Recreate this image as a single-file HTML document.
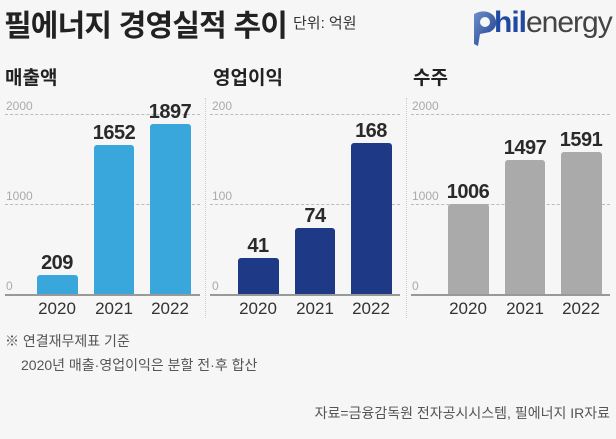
<!DOCTYPE html><html><head><meta charset="utf-8"><style>
body{margin:0;width:616px;height:439px;background:#f6f6f6;position:relative;overflow:hidden;font-family:"Liberation Sans","Noto Sans CJK KR",sans-serif}
.a{position:absolute;white-space:nowrap}
.bar{position:absolute;border-radius:3px 3px 0 0}
.v{position:absolute;font-weight:bold;font-size:20px;color:#2a2a2a;text-align:center;width:60px;letter-spacing:-0.5px}
.y{position:absolute;font-size:17px;color:#333;text-align:center;width:60px;top:299px}
.g{position:absolute;border-top:1px dashed #bbb;height:0}
.t{position:absolute;font-size:12px;color:#aaa}
.base{position:absolute;top:294px;height:2px;background:#999}
.sep{position:absolute;top:98px;height:220px;border-left:1px dotted #ccc}
.h{position:absolute;font-weight:bold;font-size:19px;color:#222;top:63px}
</style></head><body>
<div class="a" style="left:4px;top:1px;font-size:30px;font-weight:bold;color:#222;letter-spacing:-0.8px">필에너지 경영실적 추이</div>
<div class="a" style="left:293px;top:12px;font-size:15px;color:#333">단위: 억원</div>
<svg class="a" style="left:470px;top:8px" width="30" height="40"><defs><linearGradient id="lg" x1="0" y1="0" x2="1" y2="1"><stop offset="0" stop-color="#6d8fc9"/><stop offset="1" stop-color="#1c3c8f"/></linearGradient></defs><path d="M4 6 Q16 0 24 8 Q30 18 20 24 L10 26 L8 38 L4 36 Z" fill="url(#lg)"/><circle cx="15" cy="14" r="5" fill="#f6f6f6"/></svg>
<div class="a" style="left:494px;top:6px;font-size:30px;letter-spacing:-1px"><b style="color:#1f4aa0">hil</b><span style="color:#444">energy</span></div>

<div class="h" style="left:5px">매출액</div>
<div class="h" style="left:213px">영업이익</div>
<div class="h" style="left:413px">수주</div>
<div class="sep" style="left:205px"></div><div class="sep" style="left:406px"></div>

<div class="g" style="left:5px;width:195px;top:114px"></div><div class="g" style="left:5px;width:195px;top:204px"></div>
<div class="g" style="left:210px;width:190px;top:114px"></div><div class="g" style="left:210px;width:190px;top:204px"></div>
<div class="g" style="left:411px;width:199px;top:114px"></div><div class="g" style="left:411px;width:199px;top:204px"></div>
<div class="t" style="left:6px;top:99px">2000</div><div class="t" style="left:6px;top:189px">1000</div><div class="t" style="left:6px;top:279px">0</div>
<div class="t" style="left:212px;top:99px">200</div><div class="t" style="left:212px;top:189px">100</div><div class="t" style="left:212px;top:279px">0</div>
<div class="t" style="left:412px;top:99px">2000</div><div class="t" style="left:412px;top:189px">1000</div><div class="t" style="left:412px;top:279px">0</div>

<div class="bar" style="left:37px;width:41px;top:275px;height:19px;background:#3aa7dc"></div>
<div class="bar" style="left:94px;width:40px;top:145px;height:149px;background:#3aa7dc"></div>
<div class="bar" style="left:150px;width:41px;top:124px;height:170px;background:#3aa7dc"></div>
<div class="v" style="left:27px;top:252px">209</div><div class="v" style="left:84px;top:122px">1652</div><div class="v" style="left:140px;top:101px">1897</div>

<div class="bar" style="left:238px;width:41px;top:258px;height:36px;background:#1e3a87"></div>
<div class="bar" style="left:295px;width:40px;top:228px;height:66px;background:#1e3a87"></div>
<div class="bar" style="left:351px;width:41px;top:143px;height:151px;background:#1e3a87"></div>
<div class="v" style="left:228px;top:235px">41</div><div class="v" style="left:285px;top:205px">74</div><div class="v" style="left:341px;top:120px">168</div>

<div class="bar" style="left:448px;width:41px;top:204px;height:90px;background:#aaa"></div>
<div class="bar" style="left:505px;width:40px;top:160px;height:134px;background:#aaa"></div>
<div class="bar" style="left:561px;width:41px;top:152px;height:142px;background:#aaa"></div>
<div class="v" style="left:438px;top:181px">1006</div><div class="v" style="left:495px;top:137px">1497</div><div class="v" style="left:551px;top:129px">1591</div>

<div class="base" style="left:5px;width:195px"></div><div class="base" style="left:210px;width:190px"></div><div class="base" style="left:411px;width:199px"></div>
<div class="y" style="left:27px">2020</div><div class="y" style="left:84px">2021</div><div class="y" style="left:140px">2022</div>
<div class="y" style="left:228px">2020</div><div class="y" style="left:285px">2021</div><div class="y" style="left:341px">2022</div>
<div class="y" style="left:438px">2020</div><div class="y" style="left:495px">2021</div><div class="y" style="left:551px">2022</div>

<div class="a" style="left:5px;top:331px;font-size:14px;color:#555">※ 연결재무제표 기준</div>
<div class="a" style="left:21px;top:355px;font-size:14px;color:#555">2020년 매출·영업이익은 분할 전·후 합산</div>
<div class="a" style="right:6px;top:403px;font-size:14px;color:#555">자료=금융감독원 전자공시시스템, 필에너지 IR자료</div>
</body></html>
